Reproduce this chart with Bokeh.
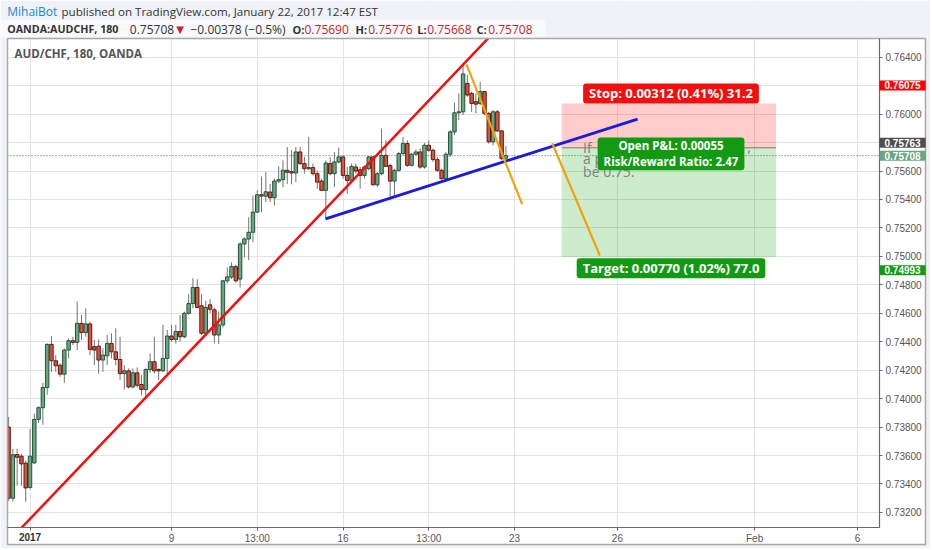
from bokeh.plotting import figure
from bokeh.models import (Range1d, FixedTicker, Label, ColumnDataSource, PrintfTickFormatter)
from bokeh.embed import file_html
from bokeh.resources import INLINE

# ---------------- data (3-hour candles, bar index on x) ----------------
opens = [0.7380, 0.7330, 0.73607, 0.73595, 0.73546, 0.73376, 0.73548, 0.73854, 0.73936, 0.74078,
         0.74381, 0.74266, 0.74235, 0.74172, 0.74341, 0.74407, 0.74395, 0.74529, 0.74464, 0.74525,
         0.74365, 0.74369, 0.74271, 0.74301, 0.74388, 0.74329, 0.74275, 0.74176, 0.74195, 0.74082,
         0.74181, 0.74099, 0.74064, 0.74205, 0.74259, 0.74205, 0.74195, 0.74282, 0.7444, 0.74416,
         0.74471, 0.74435, 0.746, 0.74668, 0.74781, 0.74652, 0.74459, 0.74659, 0.74624, 0.74447,
         0.74518, 0.74828, 0.74854, 0.74927, 0.7484, 0.75087, 0.75122, 0.75169, 0.75311, 0.75433,
         0.75423, 0.75452, 0.75412, 0.75529, 0.75539, 0.75605, 0.75595, 0.75586, 0.75734, 0.75652,
         0.75616, 0.75624, 0.75581, 0.75529, 0.75464, 0.75652, 0.75581, 0.75664, 0.75699, 0.75569,
         0.75534, 0.75628, 0.75609, 0.75569, 0.75616, 0.75699, 0.75503, 0.75581, 0.7571, 0.75638,
         0.75529, 0.75605, 0.75722, 0.75793, 0.7564, 0.75718, 0.75734, 0.75628, 0.75781, 0.75746,
         0.7568, 0.75605, 0.75546, 0.75718, 0.75875, 0.76009, 0.76016, 0.76216, 0.76146, 0.76087,
         0.76075, 0.76158, 0.76005, 0.75805, 0.76016, 0.75882, 0.7569]
highs = [0.7387, 0.73647, 0.73647, 0.73612, 0.73565, 0.73788, 0.73894, 0.73946, 0.74111, 0.74388,
         0.7444, 0.74306, 0.74247, 0.74353, 0.74424, 0.74435, 0.74682, 0.74588, 0.74635, 0.74541,
         0.74412, 0.74416, 0.74353, 0.74447, 0.74459, 0.74494, 0.74435, 0.74235, 0.74212, 0.74212,
         0.74219, 0.74165, 0.74212, 0.74318, 0.74435, 0.74212, 0.74518, 0.74482, 0.74518, 0.74518,
         0.74588, 0.74612, 0.74734, 0.74847, 0.7484, 0.74734, 0.74687, 0.74699, 0.7464, 0.74612,
         0.74835, 0.74922, 0.74958, 0.74941, 0.75099, 0.75134, 0.75275, 0.75428, 0.75464, 0.75562,
         0.75593, 0.7551, 0.75546, 0.75633, 0.75675, 0.75769, 0.75746, 0.75769, 0.75769, 0.75699,
         0.7584, 0.75652, 0.75605, 0.75546, 0.75675, 0.75699, 0.75734, 0.75765, 0.7571, 0.75628,
         0.75652, 0.75652, 0.75628, 0.7564, 0.75704, 0.75704, 0.75593, 0.75899, 0.75816, 0.75652,
         0.75616, 0.75734, 0.7584, 0.75816, 0.75727, 0.75751, 0.75758, 0.75798, 0.75816, 0.75758,
         0.75699, 0.75616, 0.75734, 0.75887, 0.7608, 0.76146, 0.76346, 0.76275, 0.76158, 0.76146,
         0.76228, 0.76158, 0.76016, 0.76028, 0.76028, 0.75887, 0.75776]
lows = [0.7328, 0.73275, 0.73388, 0.73388, 0.73275, 0.73365, 0.73541, 0.73828, 0.73816, 0.74028,
        0.74188, 0.74188, 0.74153, 0.74111, 0.74282, 0.74376, 0.74341, 0.74412, 0.74435, 0.74306,
        0.74235, 0.74176, 0.74188, 0.74235, 0.74282, 0.74235, 0.7413, 0.74064, 0.74071, 0.74071,
        0.74078, 0.74024, 0.74012, 0.74181, 0.74176, 0.7413, 0.74188, 0.74165, 0.744, 0.74388,
        0.744, 0.74424, 0.74588, 0.74635, 0.74635, 0.74447, 0.7444, 0.746, 0.74388, 0.74384,
        0.745, 0.74809, 0.7484, 0.74816, 0.74781, 0.74993, 0.74974, 0.75099, 0.75304, 0.75311,
        0.75381, 0.75381, 0.75358, 0.75515, 0.75487, 0.7551, 0.75506, 0.75522, 0.7564, 0.75581,
        0.75605, 0.75569, 0.75475, 0.7546, 0.75264, 0.75569, 0.75487, 0.75652, 0.75546, 0.7544,
        0.75522, 0.75581, 0.75475, 0.75546, 0.75605, 0.75499, 0.75487, 0.75569, 0.75628, 0.75393,
        0.75416, 0.75593, 0.7571, 0.75628, 0.75633, 0.7571, 0.75616, 0.75616, 0.75734, 0.75664,
        0.75593, 0.75539, 0.75534, 0.75699, 0.75852, 0.75958, 0.75993, 0.76122, 0.76016, 0.76005,
        0.76064, 0.75993, 0.75793, 0.75781, 0.75875, 0.75675, 0.75668]
closes = [0.7330, 0.73605, 0.73588, 0.73541, 0.73372, 0.73595, 0.73854, 0.73936, 0.74078, 0.74381,
          0.74266, 0.74231, 0.74172, 0.74341, 0.74407, 0.74395, 0.74529, 0.74464, 0.74525, 0.74346,
          0.74341, 0.74271, 0.74306, 0.74388, 0.74329, 0.74275, 0.74176, 0.74195, 0.74082, 0.74181,
          0.74094, 0.74064, 0.74205, 0.74259, 0.74195, 0.74195, 0.74282, 0.7444, 0.74416, 0.74471,
          0.74435, 0.746, 0.74668, 0.74781, 0.7464, 0.74459, 0.7464, 0.74628, 0.74447, 0.74518,
          0.74828, 0.74856, 0.74929, 0.74828, 0.75087, 0.75122, 0.75169, 0.75311, 0.75433, 0.75424,
          0.75454, 0.75412, 0.75529, 0.75539, 0.75605, 0.75591, 0.75586, 0.75734, 0.75652, 0.75616,
          0.75624, 0.75581, 0.75522, 0.75464, 0.75656, 0.75581, 0.75664, 0.75699, 0.75569, 0.75534,
          0.75633, 0.756, 0.75569, 0.75628, 0.75699, 0.75503, 0.75581, 0.7571, 0.75633, 0.75529,
          0.75605, 0.75722, 0.75793, 0.7564, 0.75718, 0.75734, 0.75628, 0.75781, 0.75746, 0.7568,
          0.75605, 0.75546, 0.75718, 0.75875, 0.76009, 0.76016, 0.76282, 0.76134, 0.76075, 0.7607,
          0.76158, 0.76005, 0.75805, 0.76016, 0.75882, 0.75687, 0.75708]

x_ticks = [5, 38, 58, 78, 98, 118, 142, 174, 198]
x_tick_labels = ["2017", "9", "13:00", "16", "13:00", "23", "26", "Feb", "6"]
y_ticks = [0.732, 0.734, 0.736, 0.738, 0.740, 0.742, 0.744, 0.746, 0.748,
           0.750, 0.752, 0.754, 0.756, 0.758, 0.760, 0.762, 0.764]
hidden_y_ticks = [0.762, 0.758]   # covered by price tags on the scale

# drawings (bar index, price)
red_trend_x, red_trend_y = [2.0, 112.0], [0.73059, 0.76537]
blue_trend_x, blue_trend_y = [73.92, 146.7], [0.75264, 0.75965]
orange1_x, orange1_y = [106.8, 119.8], [0.76349, 0.75365]
orange2_x, orange2_y = [126.8, 137.9], [0.75795, 0.75006]

pos_left, pos_right = 129, 179
stop_price, entry_price, target_price = 0.76075, 0.75763, 0.74993
last_price = 0.75708

stop_text = "Stop: 0.00312 (0.41%) 31.2"
pnl_text = "Open P&L: 0.00055\nRisk/Reward Ratio: 2.47"
target_text = "Target: 0.00770 (1.02%) 77.0"
note_lines = [("If", 134.0, 0.75767), (",", 172.3, 0.75767), ("a p", 134.0, 0.75686), ("be 0.75.", 134.0, 0.75596)]

# price-scale tags: text, price, pixel shift, colour
tags = [("0.76075", 0.76075, 18, "#ff0000"),
        ("0.75763", 0.75763, 5, "#4f4f4f"),
        ("0.75708", 0.75708, 0, "#6ba583"),
        ("0.74993", 0.74993, -13, "#119b11")]

# ---------------- layout helpers (pixels -> data) ----------------
W, H = 930, 548
PX_PER_BAR, BAR0_PX = 4.2875, 8.08
PX_PER_UNIT, REF_PRICE, REF_PX = 28.45 / 0.002, 0.764, 56.7
PLOT_L, PLOT_R, PLOT_T, PLOT_B = 7, 879, 38, 527
OUTER_R, OUTER_B = 925, 544


def px_x(px):
    return (px - BAR0_PX) / PX_PER_BAR


def px_y(py):
    return REF_PRICE - (py - REF_PX) / PX_PER_UNIT


UP_FILL, UP_LINE = "#6ba583", "#225437"
DN_FILL, DN_LINE = "#d75442", "#5b1a13"
WICK = "#737375"
DARK, RED_TXT = "#333333", "#c1272d"
OUTSIDE = "#eff2f6"

p = figure(frame_width=W, frame_height=H,
           x_range=Range1d(px_x(0), px_x(W)), y_range=Range1d(px_y(H), px_y(0)),
           y_axis_location="right", toolbar_location=None, output_backend="svg",
           min_border=0, background_fill_color="white", border_fill_color="white",
           outline_line_color=None)
p.title.visible = False

# axes drawn at the plot-area edges
xa = p.xaxis[0]
xa.fixed_location = px_y(PLOT_B)
xa.ticker = FixedTicker(ticks=x_ticks)
xa.major_label_overrides = {t: ("" if lab == "2017" else lab) for t, lab in zip(x_ticks, x_tick_labels)}
ya = p.yaxis[0]
ya.fixed_location = px_x(PLOT_R)
ya.ticker = FixedTicker(ticks=y_ticks)
ya.formatter = PrintfTickFormatter(format="%.5f")
ya.major_label_overrides = {t: "" for t in hidden_y_ticks}
for ax in (xa, ya):
    ax.axis_line_color = None
    ax.major_tick_line_color = "#666666"
    ax.major_tick_out = 3
    ax.major_tick_in = 0
    ax.minor_tick_line_color = None
    ax.major_label_text_color = "#555555"
    ax.major_label_text_font = "Liberation Sans"
    ax.major_label_text_font_size = "10px"
xa.major_label_standoff = 2
ya.major_label_standoff = 3

p.xgrid.grid_line_color = "#e3e3e3"
p.ygrid.grid_line_color = "#e3e3e3"

# position tool boxes
p.quad(left=[pos_left], right=[pos_right], bottom=[entry_price], top=[stop_price],
       fill_color="#ff0000", fill_alpha=0.2, line_alpha=0)
p.quad(left=[pos_left], right=[pos_right], bottom=[target_price], top=[entry_price],
       fill_color="#00a000", fill_alpha=0.2, line_alpha=0)
p.segment(x0=[pos_left], x1=[pos_right], y0=[entry_price], y1=[entry_price],
          line_color="#7a7a7a", line_width=1)

# last price dotted line
p.segment(x0=[px_x(PLOT_L)], x1=[px_x(PLOT_R)], y0=[last_price], y1=[last_price],
          line_color="#3d6b55", line_dash="1 2", line_width=1)

# candles
bars = list(range(len(opens)))
up = [c >= o for o, c in zip(opens, closes)]
src = ColumnDataSource(dict(
    x=bars, h=highs, l=lows,
    top=[max(o, c) for o, c in zip(opens, closes)],
    bottom=[min(o, c) for o, c in zip(opens, closes)],
    fill=[UP_FILL if u else DN_FILL for u in up],
    line=[UP_LINE if u else DN_LINE for u in up]))
p.segment(x0="x", x1="x", y0="h", y1="l", source=src, line_color=WICK, line_width=1)
p.vbar(x="x", width=0.8, top="top", bottom="bottom", source=src,
       fill_color="fill", line_color="line", line_width=1)

# trend lines
p.line(red_trend_x, red_trend_y, line_color="#f01010", line_width=2.5)
p.line(blue_trend_x, blue_trend_y, line_color="#1c1cd6", line_width=2.8)
p.line(orange1_x, orange1_y, line_color="#f0a30a", line_width=2.2)
p.line(orange2_x, orange2_y, line_color="#f0a30a", line_width=2.2)

# surroundings of the plot area (cover anything spilling outside it)
def cover(l, r, t, b, color):
    p.quad(left=[px_x(l)], right=[px_x(r)], top=[px_y(t)], bottom=[px_y(b)],
           fill_color=color, line_alpha=0)

cover(0, W, 0, PLOT_T, OUTSIDE)            # header band
cover(0, 545, 19, 37, "#f7f9fb")           # symbol line band
cover(0, PLOT_L, PLOT_T, H, OUTSIDE)       # left margin
cover(PLOT_R, OUTER_R, PLOT_T, OUTER_B, "white")   # price scale
cover(PLOT_L, OUTER_R, PLOT_B, OUTER_B, "white")   # time scale
cover(OUTER_R, W, PLOT_T, H, OUTSIDE)      # right margin
cover(0, W, OUTER_B, H, OUTSIDE)           # bottom margin

# borders
p.multi_line(xs=[[px_x(PLOT_L), px_x(OUTER_R), px_x(OUTER_R), px_x(PLOT_L), px_x(PLOT_L)]],
             ys=[[px_y(PLOT_T), px_y(PLOT_T), px_y(OUTER_B), px_y(OUTER_B), px_y(PLOT_T)]],
             line_color="#a8a8a8", line_width=1.5)
p.multi_line(xs=[[px_x(PLOT_L), px_x(PLOT_R), px_x(PLOT_R)]],
             ys=[[px_y(PLOT_B), px_y(PLOT_B), px_y(PLOT_T)]],
             line_color="#6a6a6a", line_width=1.2)

# note text (partly hidden behind P&L label)
for txt, nx, ny in note_lines:
    p.add_layout(Label(x=nx, y=ny, text=txt, text_font="Open Sans", text_font_size="14px",
                       text_color="#808080", text_baseline="middle", text_align="left"))

box_mid = (pos_left + pos_right) / 2 + 0.5
lbl_common = dict(x=box_mid, text_font="Open Sans", text_font_style="bold",
                  text_color="white", text_align="center", text_baseline="middle",
                  padding=dict(left=6, right=6, top=1, bottom=1), border_radius=3)
p.add_layout(Label(y=stop_price, y_offset=10, text=stop_text, background_fill_color="#f40f0f",
                   text_font_size="13px", **lbl_common))
p.add_layout(Label(y=target_price, y_offset=-11, text=target_text, background_fill_color="#129b12",
                   text_font_size="13px", **lbl_common))
p.add_layout(Label(y=entry_price, y_offset=-6, text=pnl_text, background_fill_color="#129b12",
                   text_font_size="11.5px", text_line_height=1.05, **lbl_common))

# chart title inside pane
p.add_layout(Label(x=14, y=H - 53.3, x_units="screen", y_units="screen",
                   text="AUD/CHF, 180, OANDA", text_font="Open Sans", text_font_style="bold",
                   text_font_size="11.5px", text_color="#555555", text_baseline="middle"))

# bold year label on time scale
p.add_layout(Label(x=x_ticks[0], y=H - (PLOT_B + 5), y_units="screen", text=x_tick_labels[0],
                   text_font="Liberation Sans", text_font_style="bold", text_font_size="10px",
                   text_color="#333333", text_align="center", text_baseline="top"))

# price-scale tags
for txt, price, shift, col in tags:
    p.add_layout(Label(x=PLOT_R, x_units="screen", y=price, y_offset=shift, text=txt,
                       text_font="Liberation Sans", text_font_style="bold", text_font_size="10px",
                       text_color="white", text_align="left", text_baseline="middle",
                       background_fill_color=col, padding=dict(left=5, right=5, top=1, bottom=1)))

# header (page pixel positions, font size)
header1 = [(6.7, "MihaiBot", "#1f86d0", "normal", "12px"),
           (61.0, "published on TradingView.com, January 22, 2017 12:47 EST", DARK, "normal", "11.6px")]
header2 = [(6.7, "OANDA:AUDCHF, 180", DARK, "bold", "10.7px"),
           (129.3, "0.75708", DARK, "normal", "12px"),
           (175.7, "\u25bc", RED_TXT, "normal", "10px"),
           (190.0, "\u22120.00378 (\u22120.5%)", DARK, "normal", "12px"),
           (292.0, "O:", DARK, "bold", "11px"), (304.0, "0.75690", RED_TXT, "normal", "12px"),
           (355.0, "H:", DARK, "bold", "11px"), (367.7, "0.75776", RED_TXT, "normal", "12px"),
           (416.7, "L:", DARK, "bold", "11px"), (426.7, "0.75668", RED_TXT, "normal", "12px"),
           (476.0, "C:", DARK, "bold", "11px"), (487.7, "0.75708", RED_TXT, "normal", "12px")]
for page_y, segs in ((11.0, header1), (28.5, header2)):
    for px, txt, col, wt, size in segs:
        arrow = txt == "\u25bc"
        p.add_layout(Label(x=px, y=H - page_y, x_units="screen", y_units="screen",
                           text=txt, text_font="DejaVu Sans" if arrow else "Open Sans",
                           text_font_style=wt, text_font_size=size,
                           text_color=col, text_align="left", text_baseline="middle"))

open("out.html", "w").write(file_html(p, INLINE))
